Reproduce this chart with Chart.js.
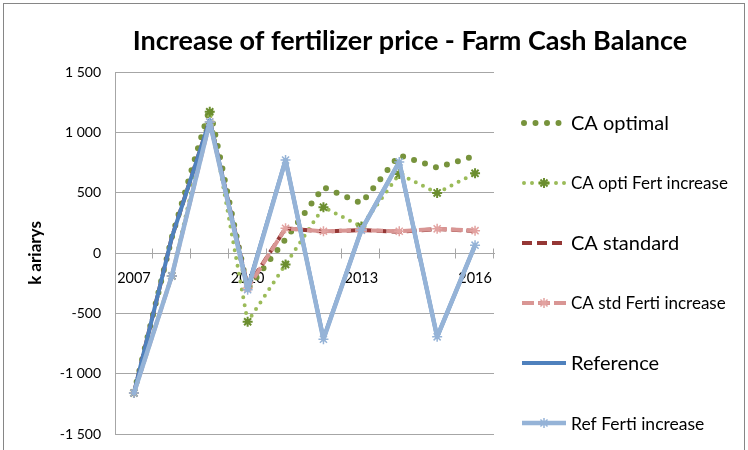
<!DOCTYPE html>
<html><head><meta charset="utf-8">
<script src="https://cdn.jsdelivr.net/npm/chart.js@4.4.0/dist/chart.umd.min.js"></script>
<style>html,body{margin:0;padding:0;background:#fff;} canvas{display:block;}</style>
</head><body>
<canvas id="c" width="748" height="450"></canvas>
<script>
const years = ['2007','2008','2009','2010','2011','2012','2013','2014','2015','2016'];
const xTickLabels = ['2007','','','2010','','','2013','','','2016'];
const yTickValues = [-1500,-1000,-500,0,500,1000,1500];
const yTickLabels = ['-1 500','-1 000','-500','0','500','1 000','1 500'];
const caOptimal  = [-1160, 130, 1200, -300, 115, 545, 413, 810, 708, 805];
const caOptiFert = [-1160, -190, 1170, -570, -95, 380, 220, 655, 498, 660];
const caStandard = [-1160, 130, 1100, -280, 205, 178, 190, 176, 198, 182];
const caStdFert  = [-1160, -190, 1085, -290, 205, 180, 190, 180, 200, 185];
const reference  = [-1160, 130, 1100, -290, 770, -710, 190, 755, -695, 65];
const refFert    = [-1160, -190, 1085, -305, 770, -715, 190, 755, -695, 65];
const seriesNames = ['CA optimal','CA opti Fert increase','CA standard','CA std Ferti increase','Reference','Ref Ferti increase'];
const titleText = 'Increase of fertilizer price - Farm Cash Balance';
const yTitle = 'k ariarys';

const FONT = 'Lato, "Open Sans", sans-serif';

function starPath(ctx, x, y, r) {
  ctx.beginPath();
  for (let k = 0; k < 4; k++) {
    const a = k * Math.PI / 4;
    ctx.moveTo(x + Math.cos(a) * r, y + Math.sin(a) * r);
    ctx.lineTo(x - Math.cos(a) * r, y - Math.sin(a) * r);
  }
  ctx.stroke();
}

const bgPlugin = {
  id: 'bg',
  beforeDraw(chart) {
    const ctx = chart.ctx;
    ctx.save();
    ctx.fillStyle = '#fff';
    ctx.fillRect(0, 0, chart.width, chart.height);
    ctx.strokeStyle = '#868686';
    ctx.lineWidth = 1;
    ctx.strokeRect(3.5, 3.5, chart.width - 7, chart.height + 10);
    ctx.restore();
  }
};

const tickPlugin = {
  id: 'crossTicks',
  beforeDatasetsDraw(chart) {
    const ctx = chart.ctx, xs = chart.scales.x, ys = chart.scales.y;
    const y0 = Math.round(ys.getPixelForValue(0)) + 0.5;
    const n = years.length;
    ctx.save();
    ctx.strokeStyle = '#a6a6a6';
    ctx.lineWidth = 1;
    ctx.beginPath();
    for (let i = 1; i <= n; i++) {
      const x = Math.round(xs.left + i * (xs.right - xs.left) / n) - 0.5;
      ctx.moveTo(x, y0 - 5);
      ctx.lineTo(x, y0 + 5);
    }
    ctx.stroke();
    ctx.restore();
  }
};

const titlePlugin = {
  id: 'bigTitle',
  afterDraw(chart) {
    const ctx = chart.ctx;
    ctx.save();
    ctx.fillStyle = '#000';
    ctx.font = 'bold 27px ' + FONT;
    ctx.textAlign = 'center';
    ctx.textBaseline = 'middle';
    ctx.fillText(titleText, 410, 41, 566);
    ctx.restore();
  }
};

const legendFonts = [20, 17, 20, 17, 20, 17.5];
const legendPlugin = {
  id: 'sideLegend',
  afterDraw(chart) {
    const ctx = chart.ctx;
    chart.data.datasets.forEach((ds, i) => {
      const y = 123 + i * 60;
      ctx.save();
      ctx.strokeStyle = ds.borderColor;
      ctx.lineWidth = ds.borderWidth;
      ctx.setLineDash(ds.borderDash || []);
      ctx.lineCap = ds.borderCapStyle || 'butt';
      ctx.beginPath();
      ctx.moveTo(ds.borderCapStyle === 'round' ? 524 : 522, y);
      ctx.lineTo(566, y);
      ctx.stroke();
      if (ds.pointStyle === 'star') {
        ctx.setLineDash([]);
        ctx.lineCap = 'butt';
        ctx.strokeStyle = ds.pointBorderColor;
        ctx.lineWidth = ds.pointBorderWidth;
        starPath(ctx, 544, y, ds.pointRadius);
      }
      ctx.fillStyle = '#000';
      ctx.font = legendFonts[i] + 'px ' + FONT;
      ctx.textAlign = 'left';
      ctx.textBaseline = 'middle';
      ctx.fillText(ds.label, 571, y + 1);
      ctx.restore();
    });
  }
};

const datasets = [
  { label: seriesNames[0], data: caOptimal, borderColor: '#77933C', borderWidth: 6,
    borderDash: [0, 11.5], borderCapStyle: 'round', pointRadius: 0, order: 5 },
  { label: seriesNames[1], data: caOptiFert, borderColor: '#9BBB59', borderWidth: 4,
    borderDash: [0, 8], borderCapStyle: 'round', pointStyle: 'star', pointRadius: 5,
    pointBorderColor: '#6B8E2F', pointBackgroundColor: '#6B8E2F', pointBorderWidth: 2, order: 4 },
  { label: seriesNames[2], data: caStandard, borderColor: '#953735', borderWidth: 4,
    borderDash: [10, 5], pointRadius: 0, order: 3 },
  { label: seriesNames[3], data: caStdFert, borderColor: '#D99694', borderWidth: 4,
    borderDash: [12, 4], pointStyle: 'star', pointRadius: 5,
    pointBorderColor: '#E3A3A1', pointBackgroundColor: '#E3A3A1', pointBorderWidth: 1.5, order: 2 },
  { label: seriesNames[4], data: reference, borderColor: '#4F81BD', borderWidth: 4,
    pointRadius: 0, order: 1 },
  { label: seriesNames[5], data: refFert, borderColor: '#95B3D7', borderWidth: 4.5,
    pointStyle: 'star', pointRadius: 5, pointBorderColor: '#95B3D7',
    pointBackgroundColor: '#95B3D7', pointBorderWidth: 1.5, order: 0 }
];
datasets.forEach(d => { d.fill = false; d.tension = 0; d.borderJoinStyle = 'round'; d.pointHoverRadius = d.pointRadius; });

new Chart(document.getElementById('c'), {
  type: 'line',
  data: { labels: years, datasets },
  options: {
    responsive: false,
    animation: false,
    events: [],
    layout: { padding: { left: 0, right: 254, top: 72, bottom: 16 } },
    plugins: { legend: { display: false }, title: { display: false }, tooltip: { enabled: false } },
    scales: {
      x: {
        type: 'category',
        position: { y: 0 },
        offset: true,
        grid: { display: false },
        border: { display: true, color: '#a6a6a6', width: 1 },
        ticks: {
          autoSkip: false, maxRotation: 0, minRotation: 0, padding: 9,
          color: '#000', font: { family: FONT, size: 14.5 },
          callback: (v, i) => xTickLabels[i]
        }
      },
      y: {
        min: -1500, max: 1500,
        afterFit(scale) { scale.width = 115; scale.paddingTop = 8; scale.paddingBottom = 8; },
        grid: { color: '#a6a6a6', drawTicks: false, lineWidth: 1 },
        border: { display: true, color: '#a6a6a6', width: 1 },
        ticks: {
          stepSize: 500, padding: 14, color: '#000', font: { family: FONT, size: 14 },
          callback: (v) => { const k = yTickValues.indexOf(v); return k >= 0 ? yTickLabels[k] : ''; }
        },
        title: { display: true, text: yTitle, color: '#000',
          font: { family: FONT, size: 17, weight: 'bold' }, padding: { top: 25, bottom: 0 } }
      }
    }
  },
  plugins: [bgPlugin, tickPlugin, titlePlugin, legendPlugin]
});
</script>
</body></html>
